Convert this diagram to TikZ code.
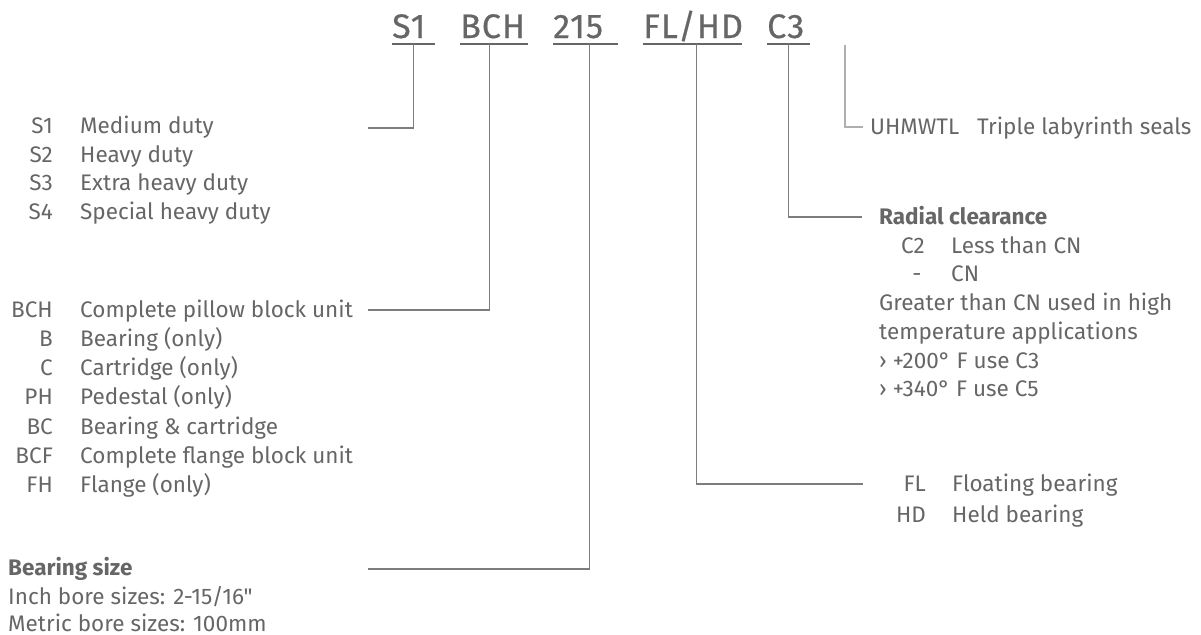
\documentclass[tikz,border=0pt]{standalone}
\usepackage{fontspec}
\setmainfont{Fira Sans}[Ligatures=TeXOff]
\usetikzlibrary{positioning}
\definecolor{codegray}{RGB}{102,102,102}
\definecolor{leadgray}{RGB}{125,125,125}
\definecolor{leadlight}{RGB}{175,175,175}

\tikzset{
  txt/.style={inner sep=0, anchor=base west, text=codegray,
              font=\fontsize{22.5}{29}\selectfont},
  code/.style={txt, anchor=base east},
  head/.style={txt, font=\fontsize{22.5}{29}\selectfont\bfseries},
  title/.style={inner sep=0, anchor=base west, text depth=6pt, align=left,
                text=codegray,
                font=\fontsize{34}{40}\selectfont
                     \addfontfeature{LetterSpace=3,FakeBold=0.6}},
  lead/.style={draw=leadgray, line width=1.2pt},
}

\begin{document}
\begin{tikzpicture}[x=1pt, y=-1pt]
    \useasboundingbox (0,0) rectangle (1201,634);

    % TITLE: part number
    \node[title, text width=43pt] (tS1)   at (392,38) {S1};
    \node[title, text width=68pt] (tBCH)  at (460,38) {BCH};
    \node[title, text width=65pt] (t215)  at (553,38) {215};
    \node[title, text width=99pt] (tFLHD) at (643,38) {FL/HD};
    \node[title, text width=43pt] (tC3)   at (767,38) {C3};
    \foreach \n in {tS1,tBCH,t215,tFLHD,tC3}
        \draw[lead, draw=codegray, line width=1.5pt]
            (\n.south west) -- (\n.south east);

    % DUTY
    \foreach \c/\d [count=\i] in {S1/Medium duty, S2/Heavy duty,
                                 S3/Extra heavy duty, S4/Special heavy duty}{
        \node[code] (sc\i) at (53,{133.5+28.5*(\i-1)}) {\c};
        \node[txt]  (sd\i) at (80,{133.5+28.5*(\i-1)}) {\d};
    }

    % UNIT TYPE
    \foreach \c/\d [count=\i] in {BCH/Complete pillow block unit,
                                 B/Bearing (only), C/Cartridge (only),
                                 PH/Pedestal (only), BC/Bearing \& cartridge,
                                 BCF/Complete flange block unit, FH/Flange (only)}{
        \node[code] (uc\i) at (53,{317+29.3*(\i-1)}) {\c};
        \node[txt]  (ud\i) at (80,{317+29.3*(\i-1)}) {\d};
    }

    % BEARING SIZE
    \node[head] (size)  at (8,575.5) {Bearing size};
    \node[txt] (inch)   at (8,604)   {Inch bore sizes: 2-15/16"};
    \node[txt] (metric) at (8,631.5) {Metric bore sizes: 100mm};

    % SEALS
    \node[txt] (uhc) at (870,134.5) {UHMWTL};
    \node[txt] (uhd) at (977,134.5) {Triple labyrinth seals};

    % RADIAL CLEARANCE
    \node[head] (rc)  at (879,224.5) {Radial clearance};
    \node[code] (c2c) at (925,253.2) {C2};
    \node[txt]  (c2d) at (951,253.2) {Less than CN};
    \node[txt, anchor=base] (cnc) at (917,281.9) {-};
    \node[txt]  (cnd) at (951,281.9) {CN};
    \node[txt] (gt1) at (879,310.6) {Greater than CN used in high};
    \node[txt] (gt2) at (879,339.3) {temperature applications};
    \node[txt] (gt3) at (879,368)   {› +200° F use C3};
    \node[txt] (gt4) at (879,396.7) {› +340° F use C5};

    % FLOATING / HELD
    \node[code] (flc) at (926,491.5) {FL};
    \node[txt]  (fld) at (952,491.5) {Floating bearing};
    \node[code] (hdc) at (926,522.5) {HD};
    \node[txt]  (hdd) at (952,522.5) {Held bearing};

    % LEADERS
    \coordinate (s1end)   at (368,128);
    \coordinate (bchend)  at (368,310);
    \coordinate (sizeend) at (368,569);
    \coordinate (flend)   at (863,484);
    \coordinate (c3end)   at (862,217);
    \coordinate (sealtop) at (845,45);
    \coordinate (sealend) at (863,127);
    \draw[lead] (tS1.south) |- (s1end);
    \draw[lead] ([xshift=-5pt]tBCH.south) |- (bchend);
    \draw[lead] ([xshift=3.5pt]t215.south) |- (sizeend);
    \draw[lead] ([xshift=3.5pt]tFLHD.south) |- (flend);
    \draw[lead] (tC3.south) |- (c3end);
    \draw[lead, draw=leadlight] (sealtop) |- (sealend);

\end{tikzpicture}
\end{document}
